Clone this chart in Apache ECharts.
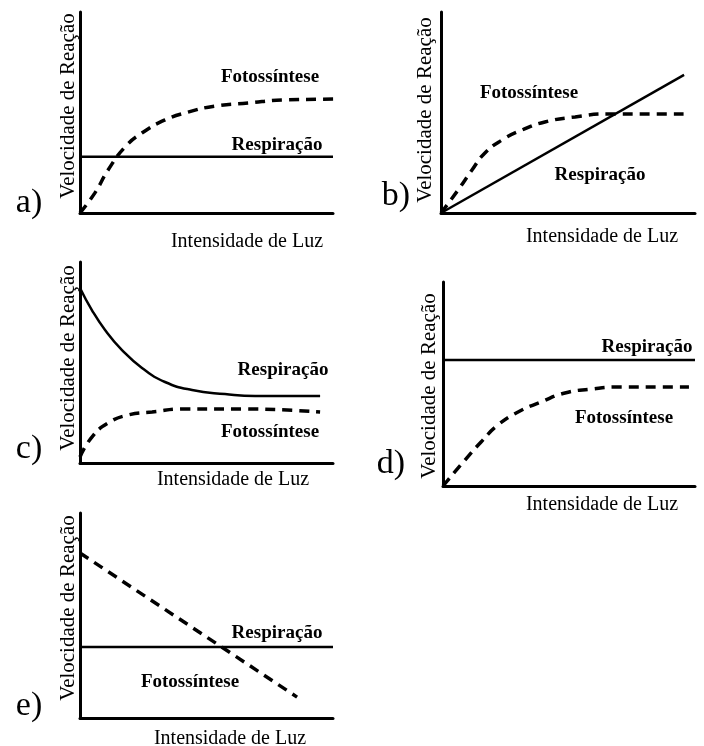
<!DOCTYPE html>
<html><head><meta charset="utf-8">
<script src="https://cdn.jsdelivr.net/npm/echarts@6/dist/echarts.min.js"></script>
<style>html,body{margin:0;padding:0;background:#fff}#c{width:704px;height:746px}</style>
</head><body><div id="c"></div>
<script>
// Data (normalized 0-100 units within each panel)
const panelLetters = ['a)', 'b)', 'c)', 'd)', 'e)'];
const xTitle = 'Intensidade de Luz';
const yTitle = 'Velocidade de Reação';
const fotoName = 'Fotossíntese';
const respName = 'Respiração';

const aResp = [[0, 28], [100, 28]];
const aFoto = [[0, 0], [5.9, 10], [11.1, 21.4], [17.8, 32.8], [24.5, 39.8], [33.6, 46.3], [42.7, 50.2], [53.4, 53.2], [66.4, 54.7], [80.2, 56.2], [104, 56.7]];

const bResp = [[0, 0], [95.7, 68.7]];
const bFoto = [[0, 0], [6.7, 11.4], [12.2, 21.4], [17.3, 29.9], [24, 36.3], [31.9, 41.3], [40.9, 45.3], [52.8, 47.8], [65.7, 49.3], [95.7, 49.3]];

const cResp = [[0, 87.1], [4.7, 76.1], [9.9, 66.2], [16.6, 56.2], [24.5, 47.3], [33.6, 40.3], [44.3, 36.3], [57.3, 34.3], [69.2, 33.3], [94.9, 33.3]];
const cFoto = [[0, 3], [4.7, 12.9], [11.1, 19.9], [19, 23.9], [28.5, 25.4], [41.5, 26.9], [64, 26.9], [94.9, 25.4]];

const dResp = [[0, 61.8], [100, 61.8]];
const dFoto = [[0, 0], [8.7, 12.7], [15.1, 21.6], [21.8, 29.9], [29.8, 36.3], [38.9, 41.2], [48.4, 45.6], [58.7, 47.5], [69.4, 48.5], [97.6, 48.5]];

const eResp = [[0, 34.6], [100, 34.6]];
const eFoto = [[0, 80.5], [85.8, 10.2]];

// Layout
const grids = [
  {left: 80, top: 12, width: 253, height: 201},
  {left: 441, top: 12, width: 254, height: 201},
  {left: 80, top: 262, width: 253, height: 201},
  {left: 443, top: 282, width: 252, height: 204},
  {left: 80, top: 513, width: 253, height: 205}
];
const respData = [aResp, bResp, cResp, dResp, eResp];
const fotoData = [aFoto, bFoto, cFoto, dFoto, eFoto];
const respSmooth = [false, false, true, false, false];
const fotoSmooth = [true, true, true, true, false];

const fotoLabelPos = [[270, 77], [529, 93], [270, 432], [624, 418], [190, 682]];
const respLabelPos = [[277, 145], [600, 175], [283, 370], [647, 347], [277, 633]];
const letterPos = [[29, 203], [396, 196], [29, 449], [391, 464], [29, 706]];
const xTitlePos = [[247, 242], [602, 237], [233, 480], [602, 505], [230, 739]];
const yTitlePos = [[68, 106], [425, 110], [68, 358], [429, 386], [68, 608]];

const axisLine = {show: true, onZero: false, lineStyle: {color: '#000', width: 3}};
const serif = '"Liberation Serif", "DejaVu Serif", serif';

const xAxes = [], yAxes = [], series = [], graphics = [];
grids.forEach((g, i) => {
  xAxes.push({type: 'value', gridIndex: i, min: 0, max: 100, axisLine, axisTick: {show: false}, axisLabel: {show: false}, splitLine: {show: false}});
  yAxes.push({type: 'value', gridIndex: i, min: 0, max: 100, axisLine, axisTick: {show: false}, axisLabel: {show: false}, splitLine: {show: false}});
  series.push({type: 'line', name: respName, xAxisIndex: i, yAxisIndex: i, data: respData[i], showSymbol: false,
    smooth: respSmooth[i] ? 0.5 : false, clip: false,
    lineStyle: {color: '#000', width: 2.5}});
  series.push({type: 'line', name: fotoName, xAxisIndex: i, yAxisIndex: i, data: fotoData[i], showSymbol: false,
    smooth: fotoSmooth[i] ? 0.5 : false, clip: false,
    lineStyle: {color: '#000', width: 3.5, type: [10, 7]}});
  const txt = (pos, text, size, weight, rot) => ({type: 'text', x: pos[0], y: pos[1], rotation: rot || 0,
    style: {text, fill: '#000', font: weight + ' ' + size + 'px ' + serif, textAlign: 'center', textVerticalAlign: 'middle'}});
  graphics.push(txt(fotoLabelPos[i], fotoName, 19, 'bold'));
  graphics.push(txt(respLabelPos[i], respName, 19, 'bold'));
  graphics.push(txt(letterPos[i], panelLetters[i], 34, 'normal'));
  graphics.push(txt(xTitlePos[i], xTitle, 20, 'normal'));
  graphics.push(txt(yTitlePos[i], yTitle, 21, 'normal', Math.PI / 2));
});

const chart = echarts.init(document.getElementById('c'), null, {renderer: 'canvas'});
chart.setOption({
  animation: false,
  backgroundColor: '#fff',
  grid: grids.map(g => Object.assign({containLabel: false}, g)),
  xAxis: xAxes,
  yAxis: yAxes,
  series,
  graphic: graphics
});
</script></body></html>
